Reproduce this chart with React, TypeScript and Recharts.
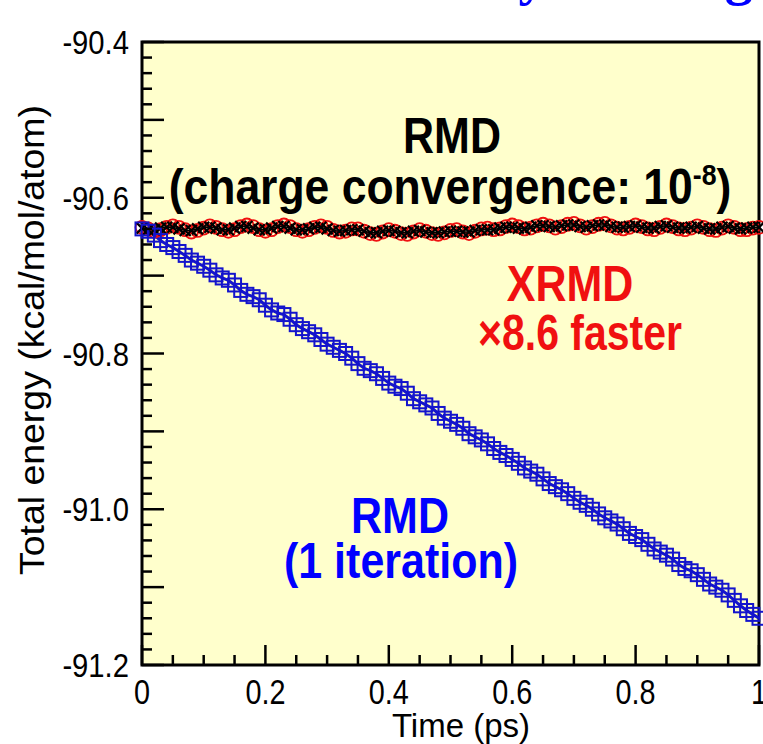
import React from "react"
import { ComposedChart, Line, XAxis, YAxis, CartesianGrid, ReferenceArea } from "recharts"

// time step between samples (ps)
const STEP = 0.01

// RMD, 1 charge iteration per step (blue squares)
const RMD_1ITER = [
  -90.640, -90.643, -90.648, -90.655, -90.660, -90.664, -90.669, -90.674, -90.680, -90.684,
  -90.688, -90.693, -90.699, -90.703, -90.706, -90.712, -90.719, -90.724, -90.727, -90.731,
  -90.738, -90.744, -90.748, -90.750, -90.756, -90.763, -90.768, -90.772, -90.776, -90.782,
  -90.788, -90.792, -90.796, -90.800, -90.806, -90.813, -90.819, -90.822, -90.826, -90.832,
  -90.838, -90.842, -90.845, -90.851, -90.858, -90.862, -90.866, -90.870, -90.877, -90.883,
  -90.887, -90.891, -90.896, -90.903, -90.907, -90.911, -90.916, -90.922, -90.927, -90.931,
  -90.936, -90.941, -90.947, -90.951, -90.955, -90.961, -90.967, -90.971, -90.975, -90.980,
  -90.986, -90.991, -90.995, -91.000, -91.006, -91.011, -91.015, -91.019, -91.025, -91.031,
  -91.035, -91.039, -91.045, -91.051, -91.055, -91.059, -91.064, -91.071, -91.076, -91.079,
  -91.084, -91.090, -91.096, -91.100, -91.104, -91.110, -91.117, -91.124, -91.130, -91.135,
  -91.140,
]

// XRMD (red circles)
const XRMD = [
  -90.638, -90.640, -90.643, -90.641, -90.638, -90.636, -90.638, -90.641, -90.644, -90.642,
  -90.639, -90.636, -90.638, -90.641, -90.643, -90.641, -90.637, -90.635, -90.637, -90.641,
  -90.643, -90.641, -90.637, -90.635, -90.637, -90.641, -90.643, -90.641, -90.638, -90.636,
  -90.638, -90.642, -90.644, -90.643, -90.640, -90.640, -90.643, -90.646, -90.647, -90.644,
  -90.641, -90.643, -90.646, -90.647, -90.644, -90.641, -90.643, -90.646, -90.647, -90.645,
  -90.642, -90.641, -90.644, -90.646, -90.643, -90.640, -90.639, -90.641, -90.640, -90.637,
  -90.635, -90.637, -90.640, -90.639, -90.636, -90.634, -90.636, -90.639, -90.637, -90.634,
  -90.633, -90.636, -90.639, -90.637, -90.634, -90.633, -90.636, -90.639, -90.640, -90.638,
  -90.635, -90.637, -90.640, -90.641, -90.638, -90.635, -90.637, -90.640, -90.641, -90.639,
  -90.636, -90.638, -90.641, -90.642, -90.639, -90.636, -90.638, -90.641, -90.641, -90.639,
  -90.638,
]

// RMD, charge convergence 1e-8 (black crosses)
const RMD_CONVERGED = [
  -90.639, -90.641, -90.641, -90.639, -90.638, -90.638, -90.640, -90.642, -90.642, -90.640,
  -90.638, -90.638, -90.639, -90.641, -90.641, -90.639, -90.637, -90.637, -90.639, -90.641,
  -90.641, -90.639, -90.637, -90.637, -90.639, -90.641, -90.641, -90.640, -90.638, -90.638,
  -90.640, -90.642, -90.643, -90.642, -90.641, -90.641, -90.643, -90.645, -90.645, -90.643,
  -90.642, -90.643, -90.645, -90.645, -90.643, -90.642, -90.644, -90.645, -90.645, -90.644,
  -90.643, -90.643, -90.644, -90.644, -90.642, -90.641, -90.641, -90.641, -90.639, -90.638,
  -90.638, -90.639, -90.640, -90.638, -90.636, -90.636, -90.637, -90.638, -90.636, -90.635,
  -90.635, -90.637, -90.638, -90.636, -90.635, -90.635, -90.637, -90.638, -90.638, -90.637,
  -90.636, -90.638, -90.639, -90.639, -90.637, -90.636, -90.638, -90.639, -90.639, -90.638,
  -90.637, -90.639, -90.640, -90.640, -90.638, -90.637, -90.639, -90.640, -90.639, -90.638,
  -90.638,
]

const X_LABELS = [0, 0.2, 0.4, 0.6, 0.8, 1]
const Y_LABELS = [-91.2, -91.0, -90.8, -90.6, -90.4]

const data = RMD_1ITER.map((v, i) => ({
  t: +(i * STEP).toFixed(2),
  rmd1: v,
  xrmd: XRMD[i],
  rmd: RMD_CONVERGED[i],
}))

// minor ticks: x every 0.05, y every 0.02
const xTicks = Array.from({ length: 21 }, (_, i) => +(i * 0.05).toFixed(2))
const yTicks = Array.from({ length: 41 }, (_, i) => +(-91.2 + i * 0.02).toFixed(2))

const FONT = "'Liberation Sans', Arial, Helvetica, sans-serif"

const isMult = (v: number, step: number) => {
  const r = v / step
  return Math.abs(r - Math.round(r)) < 1e-6
}
const near = (a: number, b: number) => Math.abs(a - b) < 1e-6

function BottomTick({ x, y, payload }: any) {
  const v = payload.value
  const len = isMult(v, 0.2) ? 20 : 10
  const label = X_LABELS.find((l) => near(l, v))
  return (
    <g>
      <line x1={x} x2={x} y1={y} y2={y - len} stroke="#000" strokeWidth={2.5} />
      {label !== undefined && (
        <text transform={`translate(${x},${y + 39}) scale(0.8,1)`} textAnchor="middle"
          fontSize={36} fontFamily={FONT} fill="#000">
          {String(label)}
        </text>
      )}
    </g>
  )
}

function TopTick({ x, y, payload }: any) {
  const len = isMult(payload.value, 0.2) ? 20 : 10
  return <line x1={x} x2={x} y1={y} y2={y + len} stroke="#000" strokeWidth={2.5} />
}

function LeftTick({ x, y, payload }: any) {
  const v = payload.value
  const len = isMult(v, 0.1) ? 22 : 10
  const label = Y_LABELS.find((l) => near(l, v))
  return (
    <g>
      <line x1={x} x2={x + len} y1={y} y2={y} stroke="#000" strokeWidth={2.5} />
      {label !== undefined && (
        <text transform={`translate(${x - 13},${y + 12}) scale(0.86,1)`} textAnchor="end"
          fontSize={34} fontFamily={FONT} fill="#000">
          {label.toFixed(1)}
        </text>
      )}
    </g>
  )
}

function RightTick({ x, y, payload }: any) {
  const len = isMult(payload.value, 0.1) ? 22 : 10
  return <line x1={x} x2={x - len} y1={y} y2={y} stroke="#000" strokeWidth={2.5} />
}

const BLUE = "#1414cc"
const RED = "#f01010"

const square = (p: any) => (
  <rect key={`s${p.index}`} x={p.cx - 6.5} y={p.cy - 6.5} width={13} height={13}
    fill="none" stroke={BLUE} strokeWidth={2} />
)
const circle = (p: any) => (
  <circle key={`c${p.index}`} cx={p.cx} cy={p.cy} r={6.5} fill="none" stroke={RED} strokeWidth={1.8} />
)
const cross = (p: any) => (
  <path key={`x${p.index}`} d={`M${p.cx - 5.5},${p.cy - 5.5}L${p.cx + 5.5},${p.cy + 5.5}M${p.cx - 5.5},${p.cy + 5.5}L${p.cx + 5.5},${p.cy - 5.5}`}
    stroke="#000" strokeWidth={2.2} />
)

function Txt({ x, y, size, color = "#000", sx = 0.86, children }: any) {
  return (
    <text transform={`translate(${x},${y}) scale(${sx},1)`} textAnchor="middle" fontSize={size}
      fontWeight="bold" fontFamily={FONT} fill={color}>
      {children}
    </text>
  )
}

export default function App() {
  return (
    <div style={{ position: "absolute", left: 0, top: 0, width: 763, height: 744, background: "#fff" }}>
      <ComposedChart width={763} height={744} data={data}
        margin={{ top: 42, right: 4, bottom: 0, left: 0 }}>
        <CartesianGrid horizontal={false} vertical={false} fill="#ffffcc" />
        <XAxis dataKey="t" type="number" domain={[0, 1]} ticks={xTicks} interval={0}
          height={79} tickSize={0} tickMargin={0} axisLine={false} tickLine={false} tick={BottomTick} />
        <XAxis xAxisId="top" orientation="top" dataKey="t" type="number" domain={[0, 1]} ticks={xTicks}
          interval={0} height={0} tickSize={0} tickMargin={0} axisLine={false} tickLine={false} tick={TopTick} />
        <YAxis type="number" domain={[-91.2, -90.4]} ticks={yTicks} interval={0} width={142}
          tickSize={0} tickMargin={0} axisLine={false} tickLine={false} tick={LeftTick} allowDataOverflow />
        <YAxis yAxisId="right" orientation="right" type="number" domain={[-91.2, -90.4]} ticks={yTicks}
          interval={0} width={0} tickSize={0} tickMargin={0} axisLine={false} tickLine={false} tick={RightTick} />
        <Line dataKey="xrmd" stroke={RED} strokeWidth={1.5} dot={circle} isAnimationActive={false} />
        <Line dataKey="rmd" stroke="#000" strokeWidth={1.5} dot={cross} isAnimationActive={false} />
        <Line dataKey="rmd1" stroke={BLUE} strokeWidth={3} dot={square} isAnimationActive={false} />
        <ReferenceArea x1={0} x2={1} y1={-91.2} y2={-90.4} fill="none" stroke="#000" strokeWidth={3} />
      </ComposedChart>
      <svg width={763} height={744} style={{ position: "absolute", left: 0, top: 0, pointerEvents: "none" }}>
        {/* cut-off slide heading */}
        <text x={356} y={-6} fontSize={56} fontWeight="bold" letterSpacing={1}
          fontFamily="'Liberation Serif', 'Times New Roman', serif" fill="#0000ff">
          Fidelity &amp; Long
        </text>
        <Txt x={452} y={153} size={50}>RMD</Txt>
        <Txt x={450} y={204} size={50} sx={0.89}>
          (charge convergence: 10<tspan dy={-19} fontSize={30}>-8</tspan><tspan dy={19}>)</tspan>
        </Txt>
        <Txt x={570} y={301} size={50} color={RED}>XRMD</Txt>
        <Txt x={580} y={350} size={50} color={RED} sx={0.82}>×8.6 faster</Txt>
        <Txt x={400} y={533} size={50} color="#0000ff">RMD</Txt>
        <Txt x={401} y={578} size={50} color="#0000ff">(1 iteration)</Txt>
        <text x={461} y={737} textAnchor="middle" fontSize={33}
          fontFamily={FONT} fill="#000">Time (ps)</text>
        <text x={0} y={0} transform="translate(44,340) rotate(-90)" textAnchor="middle" fontSize={35}
          textLength={470} lengthAdjust="spacingAndGlyphs" fontFamily={FONT} fill="#000">
          Total energy (kcal/mol/atom)
        </text>
      </svg>
    </div>
  )
}
